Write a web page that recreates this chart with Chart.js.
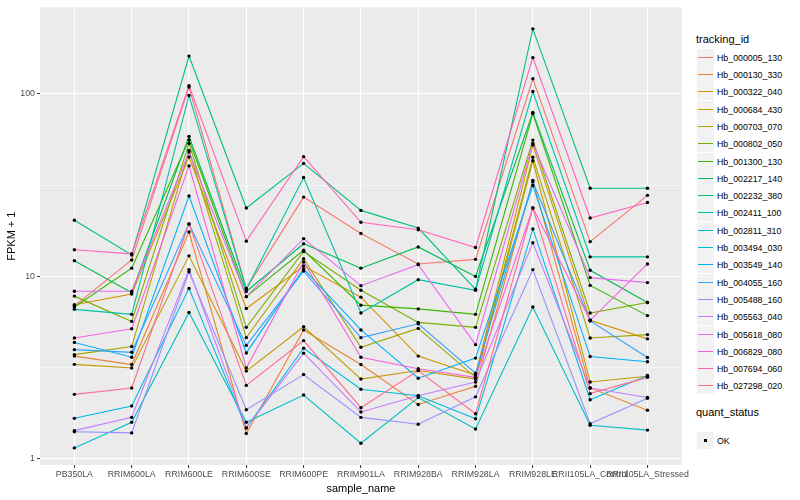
<!DOCTYPE html>
<html lang="en">
  <head>
    <meta charset="UTF-8" />
    <title>FPKM by sample</title>
    <script src="https://cdn.jsdelivr.net/npm/chart.js"></script>
    <style>
      body { margin: 0; background: #fff; }
      #wrap { position: relative; width: 800px; height: 500px; font-family: "Liberation Sans", Arial, sans-serif; }
      #chart { position: absolute; left: 0; top: 0; }
      #legend { position: absolute; left: 690px; top: 0; width: 110px; height: 500px; }
      .lt { position: absolute; left: 6px; font-size: 11px; color: #000; line-height: 13px; }
      .key { position: absolute; left: 7px; width: 17px; height: 17px; background: #f2f2f2; }
      .key span { position: absolute; left: 1px; right: 1px; top: 8px; height: 1px; }
      .lab { position: absolute; left: 27px; font-size: 8.8px; color: #000; line-height: 10px; }
    </style>
  </head>
  <body>
    <div id="wrap">
      <canvas id="chart" width="690" height="500"></canvas>
      <div id="legend"></div>
    </div>

    <script>
      const samples = [
        "PB350LA", "RRIM600LA", "RRIM600LE", "RRIM600SE", "RRIM600PE", "RRIM901LA",
        "RRIM928BA", "RRIM928LA", "RRIM928LE", "RRII105LA_Control", "RRII105LA_Stressed",
      ];

      const trackingIds = [
        "Hb_000005_130", "Hb_000130_330", "Hb_000322_040", "Hb_000684_430", "Hb_000703_070",
        "Hb_000802_050", "Hb_001300_130", "Hb_002217_140", "Hb_002232_380", "Hb_002411_100",
        "Hb_002811_310", "Hb_003494_030", "Hb_003549_140", "Hb_004055_160", "Hb_005488_160",
        "Hb_005563_040", "Hb_005618_080", "Hb_006829_080", "Hb_007694_060", "Hb_027298_020",
      ];

      const lineColors = [
        "#F8766D", "#EA8331", "#D89000", "#C09B00", "#A3A500", "#7CAE00", "#39B600",
        "#00BB4E", "#00BF7D", "#00C1A3", "#00BFC4", "#00BAE0", "#00B0F6", "#35A2FF",
        "#9590FF", "#C77CFF", "#E76BF3", "#FA62DB", "#FF62BC", "#FF6C91",
      ];

      // FPKM + 1, one array per tracking_id, in sample order
      const hb000005 = [6.9, 12.3, 109, 8.6, 27.2, 17.2, 11.7, 12.4, 121, 15.5, 27.8];
      const hb000130 = [3.66, 3.29, 17.5, 1.38, 5.09, 3.29, 1.99, 2.5, 33.5, 2.45, 1.85];
      const hb000322 = [7.0, 8.0, 45.1, 6.67, 11.4, 7.7, 3.66, 2.88, 52.5, 5.75, 4.55];
      const hb000684 = [3.3, 3.15, 12.96, 3.03, 5.3, 2.74, 3.05, 2.74, 43, 2.64, 2.84];
      const hb000703 = [3.73, 4.13, 49, 4.62, 12.5, 4.09, 5.19, 2.8, 45, 4.6, 4.8];
      const hb000802 = [7.8, 5.67, 53.5, 5.26, 13.7, 8.4, 5.6, 5.26, 55.8, 6.3, 7.2];
      const hb001300 = [6.8, 11.1, 56, 7.75, 13.9, 6.96, 6.64, 6.2, 78, 8.93, 6.1];
      const hb002217 = [12.2, 8.15, 58.5, 8.27, 15.1, 11.1, 14.5, 10, 79, 10.8, 7.2];
      const hb002232 = [20.3, 13.1, 161, 23.7, 41.6, 23, 18.4, 8.5, 227, 30.4, 30.4];
      const hb002411 = [6.6, 6.2, 98, 8.5, 34.8, 6.3, 9.6, 8.4, 103, 12.8, 12.8];
      const hb002811 = [1.15, 1.59, 6.34, 1.59, 2.24, 1.22, 2.17, 1.46, 6.8, 1.53, 1.44];
      const hb003494 = [1.67, 1.95, 8.6, 1.48, 4.04, 2.41, 2.22, 1.66, 18.2, 2.11, 2.87];
      const hb003549 = [4.35, 3.61, 27.6, 3.81, 11.0, 5.09, 2.77, 3.57, 31.5, 3.64, 3.41];
      const hb004055 = [3.97, 3.84, 19.4, 4.19, 10.7, 4.62, 5.5, 2.95, 33, 5.7, 3.6];
      const hb005488 = [1.41, 1.39, 10.6, 1.86, 2.9, 1.69, 1.55, 2.19, 10.9, 1.56, 2.15];
      const hb005563 = [1.43, 1.69, 10.9, 1.48, 3.8, 1.81, 2.22, 2.64, 15.3, 2.45, 2.17];
      const hb005618 = [8.3, 8.3, 48, 7.75, 16.1, 8.9, 11.6, 4.23, 53.5, 9.85, 9.25];
      const hb006829 = [4.6, 5.17, 40.3, 3.15, 12.0, 3.61, 3.12, 2.8, 23.7, 5.75, 11.7];
      const hb007694 = [14, 13.3, 111, 15.6, 45.3, 19.8, 18.0, 14.4, 158, 20.9, 25.4];
      const hb027298 = [2.26, 2.45, 19.4, 2.53, 4.45, 1.91, 3.05, 1.77, 23.7, 2.28, 2.8];

      const series = [
        hb000005, hb000130, hb000322, hb000684, hb000703, hb000802, hb001300,
        hb002217, hb002232, hb002411, hb002811, hb003494, hb003549, hb004055,
        hb005488, hb005563, hb005618, hb006829, hb007694, hb027298,
      ];

      const yBreaks = [1, 10, 100];
      const yMinor = [Math.sqrt(10), Math.sqrt(1000)];

      const textGrey = "#4D4D4D";
      const fontFamily = '"Liberation Sans", Arial, sans-serif';

      const lineSets = series.map((vals, i) => ({
        type: "line",
        label: trackingIds[i],
        data: vals.map((v, j) => ({ x: j + 1, y: v })),
        borderColor: lineColors[i],
        borderWidth: 1.1,
        pointRadius: 0,
        fill: false,
        tension: 0,
        order: series.length - i + 1,
      }));

      const pointSet = {
        type: "scatter",
        label: "OK",
        data: series.flatMap((vals) => vals.map((v, j) => ({ x: j + 1, y: v }))),
        backgroundColor: "#000",
        borderWidth: 0,
        pointRadius: 1.7,
        pointStyle: "circle",
        order: 0,
      };

      const panelBg = {
        id: "panelBg",
        beforeDraw(chart) {
          const a = chart.chartArea;
          const ctx = chart.ctx;
          ctx.save();
          ctx.fillStyle = "#EBEBEB";
          ctx.fillRect(a.left, a.top, a.right - a.left, a.bottom - a.top);
          ctx.restore();
        },
      };

      const isMajor = (v) => yBreaks.some((b) => Math.abs(b - v) < 1e-9);

      new Chart(document.getElementById("chart").getContext("2d"), {
        data: { datasets: [...lineSets, pointSet] },
        options: {
          responsive: false,
          animation: false,
          layout: { padding: { top: 5, right: 2, left: 0, bottom: 0 } },
          plugins: { legend: { display: false }, tooltip: { enabled: false } },
          scales: {
            x: {
              type: "linear",
              min: 0.4,
              max: 11.6,
              afterBuildTicks: (scale) => {
                scale.ticks = samples.map((s, i) => ({ value: i + 1 }));
              },
              afterFit: (scale) => {
                scale.height = 35;
              },
              ticks: {
                autoSkip: false,
                maxRotation: 0,
                minRotation: 0,
                padding: 1,
                color: textGrey,
                font: { family: fontFamily, size: 8.8 },
                callback: (v) => samples[Math.round(v) - 1],
              },
              grid: {
                color: "#FFFFFF",
                lineWidth: 1.1,
                tickColor: "#333333",
                tickLength: 3,
                tickWidth: 1,
              },
              border: { display: false },
              title: {
                display: true,
                text: "sample_name",
                color: "#000",
                font: { family: fontFamily, size: 11 },
                padding: { top: 0, bottom: 4 },
              },
            },
            y: {
              type: "logarithmic",
              min: 0.927,
              max: 298,
              afterBuildTicks: (scale) => {
                scale.ticks = [...yBreaks, ...yMinor].sort((a, b) => a - b).map((v) => ({ value: v }));
              },
              afterFit: (scale) => {
                scale.width = 40;
              },
              ticks: {
                padding: 2,
                color: textGrey,
                font: { family: fontFamily, size: 8.8 },
                callback: (v) => (isMajor(v) ? String(v) : ""),
              },
              grid: {
                color: "#FFFFFF",
                lineWidth: (ctx) => (ctx.tick && isMajor(ctx.tick.value) ? 1.1 : 0.55),
                tickColor: (ctx) => (ctx.tick && isMajor(ctx.tick.value) ? "#333333" : "rgba(0,0,0,0)"),
                tickLength: 3,
                tickWidth: 1,
              },
              border: { display: false },
              title: {
                display: true,
                text: "FPKM + 1",
                color: "#000",
                font: { family: fontFamily, size: 11 },
                padding: { top: 5, bottom: 0 },
              },
            },
          },
        },
        plugins: [panelBg],
      });

      // legend on the right, ggplot style
      const legend = document.getElementById("legend");
      const addEl = (cls, text, top) => {
        const el = document.createElement("div");
        el.className = cls;
        el.style.top = top + "px";
        if (text) el.textContent = text;
        legend.appendChild(el);
        return el;
      };

      addEl("lt", "tracking_id", 33);
      const keyH = 17.3;
      trackingIds.forEach((id, i) => {
        const top = Math.round(48.7 + i * keyH);
        const key = addEl("key", null, top);
        const stroke = document.createElement("span");
        stroke.style.background = lineColors[i];
        key.appendChild(stroke);
        addEl("lab", id, top + 4);
      });

      addEl("lt", "quant_status", 406);
      const okTop = 432;
      const okKey = addEl("key", null, okTop);
      const dot = document.createElement("span");
      dot.style.cssText = "left:7px;right:auto;top:7px;width:3px;height:3px;background:#000;";
      okKey.appendChild(dot);
      addEl("lab", "OK", okTop + 4);
    </script>
  </body>
</html>
